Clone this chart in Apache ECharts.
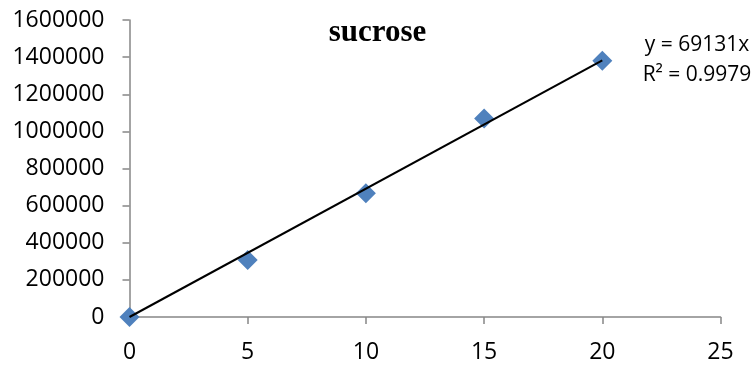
<!DOCTYPE html>
<html>
<head>
<meta charset="utf-8">
<script src="https://cdn.jsdelivr.net/npm/echarts@6/dist/echarts.min.js"></script>
<style>
  html, body { margin: 0; padding: 0; background: #fff; }
  #chart { width: 755px; height: 366px; }
</style>
</head>
<body>
<div id="chart"></div>
<script>
// concentration (x) and peak area (y)
const xValues = [0, 5, 10, 15, 20];
const yValues = [0, 307000, 666000, 1070000, 1381000];
// linear trendline through origin, as printed on the chart
const slope = 69131;
const rSquared = 0.9979;
const trendX = [0, 20];
const xTicks = { min: 0, max: 25, interval: 5 };
const yTicks = { min: 0, max: 1600000, interval: 200000 };

const chart = echarts.init(document.getElementById("chart"));

const axisColor = "#868686";
const labelFont = "'Open Sans', 'Noto Sans', sans-serif";

const option = {
  animation: false,
  title: [
    {
      text: "sucrose",
      left: "center",
      top: 12,
      textStyle: {
        fontFamily: "'Liberation Serif', 'DejaVu Serif', serif",
        fontWeight: "bold",
        fontSize: 31,
        color: "#000",
      },
    },
    {
      text: "y = " + slope + "x\nR² = " + rSquared,
      left: 692,
      top: 25,
      textAlign: "center",
      textStyle: {
        fontFamily: labelFont,
        fontWeight: "normal",
        fontSize: 21,
        lineHeight: 30,
        color: "#000",
      },
    },
  ],
  grid: { left: 129.5, right: 34.5, top: 20, bottom: 49 },
  xAxis: {
    type: "value",
    min: xTicks.min,
    max: xTicks.max,
    interval: xTicks.interval,
    axisLine: { show: true, lineStyle: { color: axisColor, width: 1.5 } },
    axisTick: { show: true, length: 7, lineStyle: { color: axisColor, width: 1.5 } },
    splitLine: { show: false },
    axisLabel: { color: "#000", fontSize: 23, fontFamily: labelFont, margin: 24 },
  },
  yAxis: {
    type: "value",
    min: yTicks.min,
    max: yTicks.max,
    interval: yTicks.interval,
    axisLine: { show: true, lineStyle: { color: axisColor, width: 1.5 } },
    axisTick: { show: true, length: 7, lineStyle: { color: axisColor, width: 1.5 } },
    splitLine: { show: false },
    axisLabel: {
      color: "#000",
      fontSize: 23,
      fontFamily: labelFont,
      margin: 25,
      formatter: (v) => String(v),
    },
  },
  series: [
    {
      type: "scatter",
      symbol: "diamond",
      symbolSize: 20,
      itemStyle: { color: "#4F81BD", opacity: 1 },
      data: xValues.map((x, i) => [x, yValues[i]]),
      z: 2,
    },
    {
      type: "line",
      symbol: "none",
      lineStyle: { color: "#000", width: 2 },
      data: trendX.map((x) => [x, slope * x]),
      z: 3,
    },
  ],
};

chart.setOption(option);
</script>
</body>
</html>
